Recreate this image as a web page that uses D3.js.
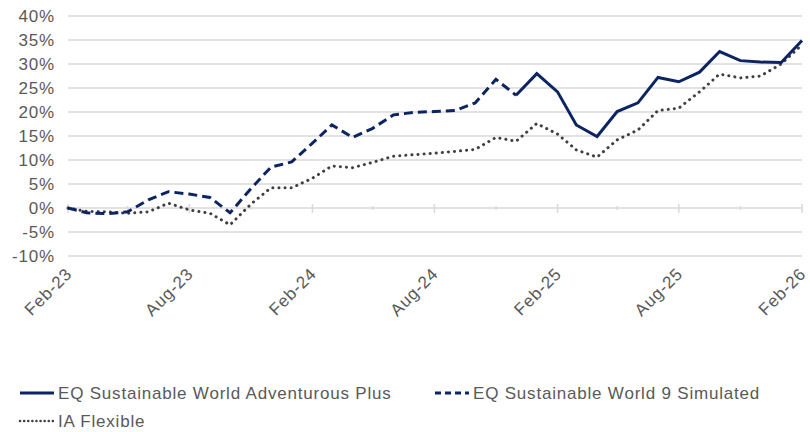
<!DOCTYPE html>
<html>
<head>
<meta charset="utf-8">
<script src="https://cdn.jsdelivr.net/npm/d3@7"></script>
<style>
  body { margin: 0; background: #fff; }
  text { font-family: "Liberation Sans", Arial, sans-serif; fill: #595959; letter-spacing: 0.8px; }
</style>
</head>
<body>
<div id="chart-holder"></div>
<script>
// monthly dates, Feb-23 to Feb-26
var months = d3.timeMonth.range(new Date(2023, 1, 1), new Date(2026, 2, 1));

// tick labels for the x axis (every 6 months)
var xTickLabels = ["Feb-23", "Aug-23", "Feb-24", "Aug-24", "Feb-25", "Aug-25", "Feb-26"];
var yTicks = [-10, -5, 0, 5, 10, 15, 20, 25, 30, 35, 40];

// EQ Sustainable World 9 Simulated (Feb-23 .. Dec-24)
var simulated = [0, -1.0, -1.2, -0.8, 1.7, 3.4, 2.9, 2.2, -1.0, 4.0, 8.5, 9.6,
  13.5, 17.3, 14.7, 16.6, 19.4, 19.9, 20.1, 20.3, 21.9, 26.8, 23.5];

// EQ Sustainable World Adventurous Plus (Dec-24 .. Feb-26)
var adventurous = [23.5, 28.0, 24.2, 17.3, 14.9, 20.1, 21.9, 27.2, 26.3, 28.3,
  32.6, 30.7, 30.4, 30.3, 34.9];

// IA Flexible (Feb-23 .. Feb-26)
var iaFlexible = [0, -0.7, -0.8, -1.1, -0.8, 1.0, -0.4, -1.1, -3.5, 0.8, 4.2, 4.2,
  6.2, 8.75, 8.4, 9.5, 10.8, 11.1, 11.4, 11.8, 12.2, 14.7, 13.9, 17.6, 15.4,
  12.1, 10.6, 14.2, 16.25, 20.3, 20.8, 24.2, 27.9, 27.1, 27.5, 30.0, 34.0];

var seriesNames = ["EQ Sustainable World Adventurous Plus", "EQ Sustainable World 9 Simulated", "IA Flexible"];

var width = 810, height = 432;
var margin = { top: 16, right: 8, bottom: 176, left: 68 };

var svg = d3.select("#chart-holder").append("svg")
  .attr("width", width)
  .attr("height", height);

var x = d3.scaleTime()
  .domain([months[0], months[months.length - 1]])
  .range([margin.left, width - margin.right]);

var y = d3.scaleLinear()
  .domain([-10, 40])
  .range([height - margin.bottom, margin.top]);

// horizontal gridlines
svg.append("g")
  .selectAll("line")
  .data(yTicks)
  .enter()
  .append("line")
  .attr("x1", x.range()[0])
  .attr("x2", x.range()[1])
  .attr("y1", function (d) { return y(d); })
  .attr("y2", function (d) { return y(d); })
  .attr("stroke", "#d9d9d9")
  .attr("stroke-width", 1.5);

// y axis labels
svg.append("g")
  .selectAll("text")
  .data(yTicks)
  .enter()
  .append("text")
  .attr("x", 55)
  .attr("y", function (d) { return y(d); })
  .attr("dy", "0.36em")
  .attr("text-anchor", "end")
  .style("font-size", "17px")
  .text(function (d) { return d + "%"; });

// axis line at zero with tick marks every 3 months
var tickDates = months.filter(function (d, i) { return i % 3 == 0; });
svg.append("g")
  .selectAll("line")
  .data(tickDates)
  .enter()
  .append("line")
  .attr("x1", function (d) { return x(d); })
  .attr("x2", function (d) { return x(d); })
  .attr("y1", function (d, i) { return y(0) - (i % 2 == 0 ? 4 : 2); })
  .attr("y2", function (d, i) { return y(0) + (i % 2 == 0 ? 5 : 2); })
  .attr("stroke", "#d9d9d9")
  .attr("stroke-width", 1.5);

// x axis labels, rotated
var labelDates = months.filter(function (d, i) { return i % 6 == 0; });
svg.append("g")
  .selectAll("text")
  .data(labelDates)
  .enter()
  .append("text")
  .attr("transform", function (d) { return "translate(" + (x(d) + 5) + "," + 275 + ")rotate(-45)"; })
  .attr("text-anchor", "end")
  .style("font-size", "17px")
  .text(function (d, i) { return xTickLabels[i]; });

var line = d3.line()
  .x(function (d) { return x(d.date); })
  .y(function (d) { return y(d.value); });

function toPoints(values, start) {
  return values.map(function (v, i) { return { date: months[start + i], value: v }; });
}

// IA Flexible, dotted
svg.append("path")
  .datum(toPoints(iaFlexible, 0))
  .attr("d", line)
  .attr("fill", "none")
  .attr("stroke", "#404040")
  .attr("stroke-width", 3)
  .attr("stroke-linecap", "round")
  .attr("stroke-dasharray", "0.1,6");

// simulated, dashed
svg.append("path")
  .datum(toPoints(simulated, 0))
  .attr("d", line)
  .attr("fill", "none")
  .attr("stroke", "#0c2461")
  .attr("stroke-width", 3)
  .attr("stroke-dasharray", "9,5");

// adventurous plus, solid
svg.append("path")
  .datum(toPoints(adventurous, simulated.length - 1))
  .attr("d", line)
  .attr("fill", "none")
  .attr("stroke", "#0c2461")
  .attr("stroke-width", 3);

// legend
var legendItems = [
  { name: seriesNames[0], x: 20, y: 393, dash: null, color: "#0c2461" },
  { name: seriesNames[1], x: 435, y: 393, dash: "6,4", color: "#0c2461" },
  { name: seriesNames[2], x: 20, y: 421, dash: "0.1,4", color: "#404040" }
];
var legend = svg.append("g")
  .selectAll("g")
  .data(legendItems)
  .enter()
  .append("g");

legend.append("line")
  .attr("x1", function (d) { return d.x; })
  .attr("x2", function (d) { return d.x + 34; })
  .attr("y1", function (d) { return d.y; })
  .attr("y2", function (d) { return d.y; })
  .attr("stroke", function (d) { return d.color; })
  .attr("stroke-width", function (d) { return d.dash == "0.1,4" ? 2.5 : 3; })
  .attr("stroke-linecap", function (d) { return d.dash == "0.1,4" ? "round" : "butt"; })
  .attr("stroke-dasharray", function (d) { return d.dash; });

legend.append("text")
  .attr("x", function (d) { return d.x + 38; })
  .attr("y", function (d) { return d.y; })
  .attr("dy", "0.36em")
  .style("font-size", "17px")
  .text(function (d) { return d.name; });
</script>
</body>
</html>
